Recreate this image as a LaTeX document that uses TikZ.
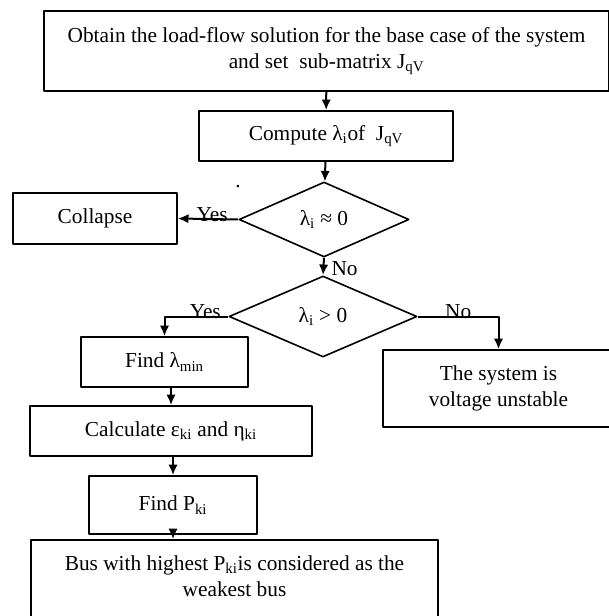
\documentclass[tikz,border=0pt]{standalone}
\usepackage{fontspec}
\setmainfont{Liberation Serif}
\usetikzlibrary{shapes.geometric,arrows.meta}
\begin{document}
\begin{tikzpicture}[x=0.75pt,y=-0.75pt,line join=round,>={Latex[length=8pt,width=7pt]},font=\fontsize{16}{19.5}\selectfont,line width=1.2pt,
box/.style={draw,rectangle,align=center,inner sep=0pt},
test/.style={draw,diamond,inner sep=0pt,aspect=2.3},
flow/.style={->,line width=1.5pt},
tag/.style={anchor=base,yshift=-1.5pt}]
\useasboundingbox (0,0) rectangle (608,616);
\node[box,minimum width=423.75pt,minimum height=60pt] (base) at (326.5,51) {Obtain the load-flow solution for the base case of the system\\and set\ \ sub-matrix J\textsubscript{qV}};
\node[box,minimum width=190.5pt,minimum height=37.5pt] (eig) at (326,136) {Compute λ\textsubscript{i}of\ \ J\textsubscript{qV}};
\node[test,minimum width=127.5pt,minimum height=56.25pt] (zero) at (324,219.5) {λ\textsubscript{i} ≈ 0};
\node[test,minimum width=141pt,minimum height=60.75pt] (pos) at (323,316.5) {λ\textsubscript{i} > 0};
\node[box,minimum width=123pt,minimum height=38.25pt] (collapse) at (95,218.5) {Collapse};
\node[box,minimum width=125.25pt,minimum height=37.5pt] (lmin) at (164.5,362) {Find λ\textsubscript{min}};
\node[box,minimum width=211.5pt,minimum height=37.5pt] (calc) at (171,431) {Calculate ε\textsubscript{ki} and η\textsubscript{ki}};
\node[box,minimum width=126pt,minimum height=43.5pt] (pki) at (173,505) {Find P\textsubscript{ki}};
\node[box,minimum width=173.25pt,minimum height=57.75pt] (unstable) at (498.5,388.5) {The system is\\voltage unstable};
\node[box,minimum width=305.25pt,minimum height=73.5pt] (weak) at (234.5,589) {Bus with highest P\textsubscript{ki}is considered as the\\weakest bus\\\mbox{}};
\node[inner sep=0pt] (dot) at (238,187) {.};
% connectors
\draw[flow] (base) -- (eig);
\draw[flow] (eig) -- (zero);
\draw[flow] (zero.south) -- node[right,pos=0.6,xshift=2pt]{No} (pos.north);
\draw[flow] (zero.west) -- node[tag,pos=0.43]{Yes} (collapse.east);
\draw[flow] (pos.west) -| node[tag,pos=0.18]{Yes} (lmin.north);
\draw[flow] (pos.east) -| node[tag,pos=0.25]{No} (unstable.north);
\draw[flow] (calc.north |- lmin.south) -- (calc.north);
\draw[flow] (pki.north |- calc.south) -- (pki.north);
\draw[flow] (pki.south) -- (pki.south |- weak.north);
\end{tikzpicture}
\end{document}
